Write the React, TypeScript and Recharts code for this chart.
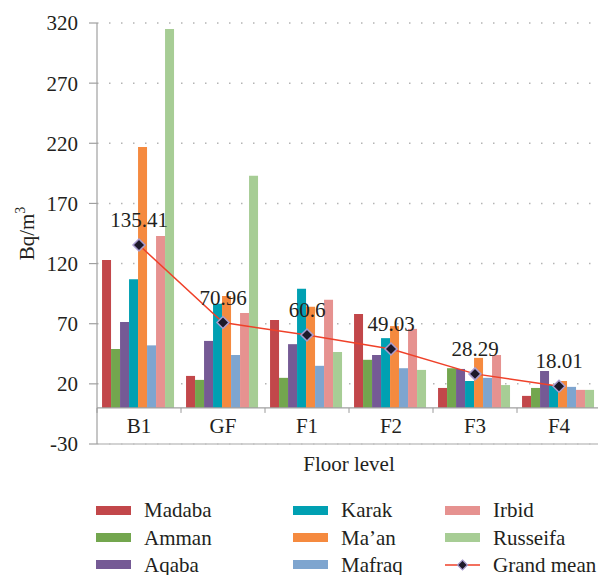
import React from 'react';
import {
  ComposedChart,
  Bar,
  Line,
  XAxis,
  YAxis,
  CartesianGrid,
  ReferenceLine,
  Legend,
  LabelList,
} from 'recharts';

const floors = ['B1', 'GF', 'F1', 'F2', 'F3', 'F4'];
const madaba = [123, 26.6, 73, 78, 16.6, 10];
const amman = [49, 23.3, 25, 40, 33, 16.6];
const aqaba = [71.5, 55.7, 53, 44, 32.4, 30.7];
const karak = [107, 86.5, 99, 58, 22.4, 19];
const maan = [217, 93, 84, 68, 41.6, 22.4];
const mafraq = [52, 44, 35, 33, 25, 17.5];
const irbid = [143, 79, 90, 65.7, 44, 15];
const russeifa = [315, 193, 46.5, 31.6, 19, 15];
const grandMean = [135.41, 70.96, 60.6, 49.03, 28.29, 18.01];
const yTicks = [-30, 20, 70, 120, 170, 220, 270, 320];

const Y_MIN = -30;
const Y_MAX = 320;

const series = [
  { key: 'madaba', name: 'Madaba', values: madaba, color: '#c2474a' },
  { key: 'amman', name: 'Amman', values: amman, color: '#73a64e' },
  { key: 'aqaba', name: 'Aqaba', values: aqaba, color: '#755a95' },
  { key: 'karak', name: 'Karak', values: karak, color: '#00a0b2' },
  { key: 'maan', name: 'Ma\u2019an', values: maan, color: '#f58a3f' },
  { key: 'mafraq', name: 'Mafraq', values: mafraq, color: '#7ea5cf' },
  { key: 'irbid', name: 'Irbid', values: irbid, color: '#e69290' },
  { key: 'russeifa', name: 'Russeifa', values: russeifa, color: '#a7cd95' },
];

const data = floors.map((f, i) => {
  const row: any = { floor: f, mean: grandMean[i] };
  series.forEach((s) => {
    row[s.key] = s.values[i];
  });
  return row;
});

const FONT = "'Liberation Serif', 'DejaVu Serif', serif";
const TEXT = '#231f20';
const CHART_W = 601;
const CHART_H = 575;
const MARGIN = { top: 23, right: 0, left: 0, bottom: 0 };
const XAXIS_H = 33;
const LEGEND_H = 98;
const PLOT_H = CHART_H - MARGIN.top - XAXIS_H - LEGEND_H;
const LINE_COLOR = '#ef4129';

const XTick = (props: any) => {
  const { x, y, payload, index } = props;
  const half = payload && payload.offset ? payload.offset : 42;
  const zeroY = y - (PLOT_H * (0 - Y_MIN)) / (Y_MAX - Y_MIN);
  return (
    <g>
      <line x1={x - half} x2={x - half} y1={zeroY} y2={zeroY + 5} stroke="#9a9a9a" strokeWidth={1} />
      {index === floors.length - 1 && (
        <line x1={x + half} x2={x + half} y1={zeroY} y2={zeroY + 5} stroke="#9a9a9a" strokeWidth={1} />
      )}
      <text x={x} y={zeroY + 25} textAnchor="middle" fontFamily={FONT} fontSize={21} fill={TEXT}>
        {payload.value}
      </text>
    </g>
  );
};

const Diamond = (props: any) => {
  const { cx, cy } = props;
  if (cx == null || cy == null) return null;
  const r = 6;
  return (
    <path
      d={`M${cx},${cy - r}L${cx + r},${cy}L${cx},${cy + r}L${cx - r},${cy}Z`}
      fill="#1e1a2a"
      stroke="#a99ccf"
      strokeWidth={1.5}
    />
  );
};

const YLabel = (props: any) => {
  const vb = props.viewBox || { x: 0, y: 23, width: 97, height: PLOT_H };
  const cx = 34;
  const cy = vb.y + vb.height / 2;
  return (
    <text
      x={cx}
      y={cy}
      transform={`rotate(-90, ${cx}, ${cy})`}
      textAnchor="middle"
      fontFamily={FONT}
      fontSize={21}
      fill={TEXT}
    >
      Bq/m
      <tspan dy={-9} fontSize={14}>
        3
      </tspan>
    </text>
  );
};

const colX = [96, 293, 445];
const rowY = [33, 60.5, 87.5];

const LegendContent = (props: any) => {
  const payload: any[] = props.payload || [];
  const order = [...series.map((s) => s.name), 'Grand mean'];
  const items = order.map((name) => {
    const p = payload.find((e) => e.value === name);
    return { name, color: p ? p.color : '#000', isLine: name === 'Grand mean' };
  });
  return (
    <div style={{ position: 'relative', width: CHART_W, height: LEGEND_H }}>
      {items.map((it, i) => {
        const col = Math.floor(i / 3);
        const row = i % 3;
        const left = colX[col];
        const top = rowY[row];
        return (
          <div key={it.name}>
            {it.isLine ? (
              <svg
                width={36}
                height={14}
                style={{ position: 'absolute', left, top: top - 7, overflow: 'visible' }}
              >
                <line x1={0} x2={35} y1={7} y2={7} stroke={LINE_COLOR} strokeWidth={1.5} />
                <path d="M17.5,2L22.5,7L17.5,12L12.5,7Z" fill="#1e1a2a" stroke="#a99ccf" strokeWidth={1.2} />
              </svg>
            ) : (
              <div
                style={{
                  position: 'absolute',
                  left,
                  top: top - 4.5,
                  width: 35,
                  height: 9,
                  background: it.color,
                }}
              />
            )}
            <div
              style={{
                position: 'absolute',
                left: left + 48,
                top: top - 13,
                height: 26,
                lineHeight: '26px',
                fontFamily: FONT,
                fontSize: 21,
                color: TEXT,
                whiteSpace: 'nowrap',
              }}
            >
              {it.name}
            </div>
          </div>
        );
      })}
    </div>
  );
};

export default function App() {
  return (
    <div
      style={{
        position: 'fixed',
        left: 0,
        top: 0,
        width: 598,
        height: 575,
        overflow: 'hidden',
        background: '#ffffff',
      }}
    >
      <ComposedChart
        width={CHART_W}
        height={CHART_H}
        data={data}
        margin={MARGIN}
        barCategoryGap="6%"
        barGap={0}
      >
        <CartesianGrid
          vertical={false}
          stroke="#b4b4b4"
          strokeWidth={1.5}
          strokeDasharray="1.5 10.5"
        />
        <XAxis
          dataKey="floor"
          height={XAXIS_H}
          axisLine={{ stroke: '#c4c4c4', strokeWidth: 1.5 }}
          tickLine={false}
          tickSize={0}
          tickMargin={0}
          tick={<XTick />}
          interval={0}
          label={{
            value: 'Floor level',
            position: 'insideBottom',
            offset: 6,
            fontFamily: FONT,
            fontSize: 21,
            fill: TEXT,
          }}
        />
        <YAxis
          width={97}
          domain={[Y_MIN, Y_MAX]}
          ticks={yTicks}
          interval={0}
          allowDataOverflow
          axisLine={{ stroke: '#a0a0a0', strokeWidth: 1.2 }}
          tickLine={{ stroke: '#a0a0a0', strokeWidth: 1.2 }}
          tickSize={8}
          tickMargin={11}
          tick={{ fontFamily: FONT, fontSize: 21, fill: TEXT }}
          label={<YLabel />}
        />
        <ReferenceLine y={0} stroke="#a0a0a0" strokeWidth={1.2} />
        {series.map((s) => (
          <Bar
            key={s.key}
            dataKey={s.key}
            name={s.name}
            fill={s.color}
            isAnimationActive={false}
          />
        ))}
        <Line
          dataKey="mean"
          name="Grand mean"
          type="linear"
          stroke={LINE_COLOR}
          strokeWidth={1.5}
          dot={<Diamond />}
          activeDot={false}
          isAnimationActive={false}
        >
          <LabelList
            dataKey="mean"
            position="top"
            offset={18}
            style={{ fontFamily: FONT, fontSize: 21, fill: TEXT }}
          />
        </Line>
        <Legend
          verticalAlign="bottom"
          height={LEGEND_H}
          wrapperStyle={{ left: 0, width: CHART_W }}
          content={<LegendContent />}
        />
      </ComposedChart>
    </div>
  );
}
